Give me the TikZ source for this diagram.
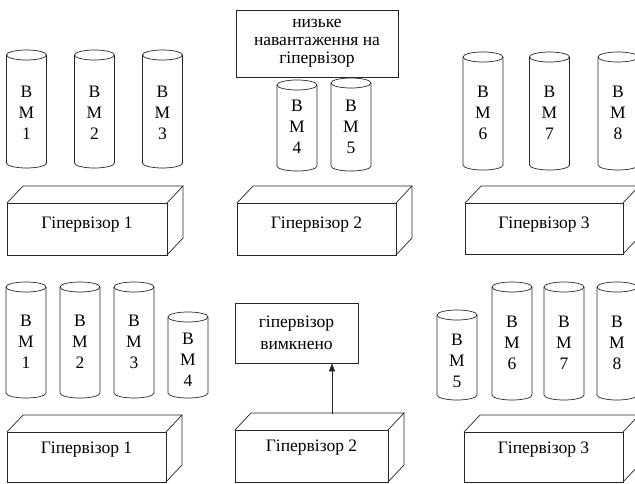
\documentclass[tikz,border=0pt]{standalone}
\usepackage{fontspec}
\setmainfont{Liberation Serif}
\usetikzlibrary{arrows.meta}
\tikzset{
  lin/.style={line width=0.7pt, draw=black!85},
  vmtext/.style={align=center, inner sep=0pt, font=\fontsize{17.5}{21}\selectfont},
  hvtext/.style={inner sep=0pt, font=\fontsize{17.5}{19}\selectfont},
  infobox/.style={lin, draw, align=center, inner sep=0pt},
}
% name, cx, ytop, ybot, textY, text
\newcommand{\vmcyl}[6]{%
  \draw[lin] (#2-20,-#3) -- (#2-20,-#4) arc[start angle=180,end angle=360,x radius=20,y radius=5] -- (#2+20,-#3);
  \draw[lin] (#2,-#3) ellipse[x radius=20,y radius=5];
  \node[vmtext] (#1) at (#2,-#5) {#6};
}
% name, xl, ytop, xr, ybot, textY, text
\newcommand{\hvbox}[7]{%
  \draw[lin] (#2,-#3) rectangle (#4,-#5);
  \draw[lin] (#2,-#3) -- (#2+16,-#3+17) -- (#4+16,-#3+17) -- (#4,-#3);
  \draw[lin] (#4+16,-#3+17) -- (#4+16,-#5+17) -- (#4,-#5);
  \node[hvtext] (#1) at ({(#2+#4)/2},-#6) {#7};
}
\begin{document}
\begin{tikzpicture}[x=1pt,y=1pt]
\useasboundingbox (0,0) rectangle (635,-483);
\clip (0,0) rectangle (635,-483);
% ---- top row
\vmcyl{t1}{26.5}{55}{163}{113}{В\\М\\1}
\vmcyl{t2}{94.5}{55}{163}{113}{В\\М\\2}
\vmcyl{t3}{162.5}{55}{163}{113}{В\\М\\3}
\vmcyl{t4}{297}{85}{166}{127}{В\\М\\4}
\vmcyl{t5}{351}{83}{166}{127}{В\\М\\5}
\vmcyl{t6}{483}{57}{165}{113}{В\\М\\6}
\vmcyl{t7}{549.5}{57}{165}{113}{В\\М\\7}
\vmcyl{t8}{618}{57}{165}{113}{В\\М\\8}
\node[infobox, minimum width=162pt, minimum height=67pt, font=\fontsize{17.5}{18}\selectfont] (load) at (317,-43.5) {низьке\\навантаження на\\гіпервізор};
\hvbox{th1}{7}{203}{167}{255}{225}{Гіпервізор 1}
\hvbox{th2}{237}{203}{396}{255}{225}{Гіпервізор 2}
\hvbox{th3}{465}{203}{623}{254}{225}{Гіпервізор 3}
% ---- bottom row
\vmcyl{b1}{26}{287}{393}{342}{В\\М\\1}
\vmcyl{b2}{80}{287}{393}{342}{В\\М\\2}
\vmcyl{b3}{134}{287}{393}{342}{В\\М\\3}
\vmcyl{b4}{188}{317}{393}{360}{В\\М\\4}
\vmcyl{b5}{457}{315}{395}{361}{В\\М\\5}
\vmcyl{b6}{512}{287}{395}{343}{В\\М\\6}
\vmcyl{b7}{564}{287}{395}{343}{В\\М\\7}
\vmcyl{b8}{617}{287}{395}{343}{В\\М\\8}
\node[infobox, minimum width=123pt, minimum height=60pt, font=\fontsize{17.5}{22}\selectfont] (off) at (296.5,-333) {гіпервізор\\вимкнено};
\hvbox{bh1}{7}{432}{166}{482}{450}{Гіпервізор 1}
\hvbox{bh2}{235}{430}{388}{482}{448}{Гіпервізор 2}
\hvbox{bh3}{464}{432}{623}{482}{450}{Гіпервізор 3}
\coordinate (bh2top) at (332,-414);
\draw[lin, -{Triangle[length=8pt,width=6pt]}] (bh2top) -- (bh2top |- off.south);
\end{tikzpicture}
\end{document}
